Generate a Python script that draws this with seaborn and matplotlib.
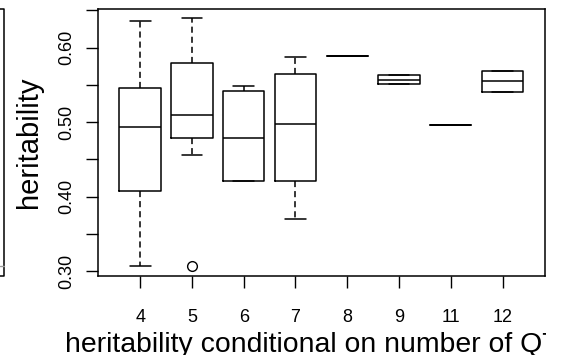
import numpy as np
import pandas as pd
import matplotlib
matplotlib.use("Agg")
import matplotlib.pyplot as plt
from matplotlib.lines import Line2D
from matplotlib.transforms import Bbox, TransformedBbox
import seaborn as sns

# ---- data ----
categories = ["4", "5", "6", "7", "8", "9", "11", "12"]
whisker_low = [0.307, 0.4556, 0.421, 0.370, 0.589, 0.551, 0.496, 0.540]
q1 = [0.4077, 0.479, 0.421, 0.421, 0.589, 0.551, 0.496, 0.540]
median = [0.494, 0.510, 0.479, 0.498, 0.589, 0.5567, 0.496, 0.555]
q3 = [0.5455, 0.579, 0.542, 0.565, 0.589, 0.563, 0.496, 0.569]
whisker_high = [0.636, 0.640, 0.549, 0.588, 0.589, 0.563, 0.496, 0.569]
outlier_group = ["5"]
outlier_value = [0.307]
ytick_values = [0.30, 0.35, 0.40, 0.45, 0.50, 0.55, 0.60, 0.65]
ytick_labels = ["0.30", "", "0.40", "", "0.50", "", "0.60", ""]
xlabel = "heritability conditional on number of QTL"
ylabel = "heritability"

rows = []
for i, c in enumerate(categories):
    for v in (whisker_low[i], q1[i], median[i], q3[i], whisker_high[i]):
        rows.append({"group": c, "h": v})
df = pd.DataFrame(rows)
out_df = pd.DataFrame({"group": outlier_group, "h": outlier_value})

sns.set_theme(style="ticks")
plt.rcParams["font.family"] = ["Liberation Sans", "DejaVu Sans"]
plt.rcParams.update({"text.color": "black", "axes.labelcolor": "black",
                     "xtick.color": "black", "ytick.color": "black",
                     "axes.edgecolor": "black"})

fig = plt.figure(figsize=(5.61, 3.55), dpi=100)
ax = fig.add_axes([97.7 / 561, 1 - 276 / 355, (545 - 97.7) / 561, (276 - 9.3) / 355])

sns.boxplot(data=df, x="group", y="h", order=categories, ax=ax,
            whis=(0, 100), fill=False, color="black", linecolor="black",
            linewidth=1.1, width=0.8,
            whiskerprops={"linestyle": (0, (4, 2.6)), "color": "black"},
            boxprops={"color": "black"},
            capprops={"color": "black"},
            medianprops={"linewidth": 1.1, "color": "black"})
sns.stripplot(data=out_df, x="group", y="h", order=categories, ax=ax,
              jitter=False, marker="o", size=7, color="white",
              edgecolor="black", linewidth=1.0, zorder=5)

ax.set_xlim(-0.82, 7.82)
ax.set_ylim(0.2935, 0.6515)
ax.set_yticks(ytick_values)
ax.set_yticklabels(ytick_labels, rotation=90, va="center", fontsize=13)
ax.tick_params(axis="x", labelsize=13, length=8.3, width=1.0, pad=15.5,
               color="black", labelcolor="black")
ax.tick_params(axis="y", length=8.3, width=1.0, pad=8,
               color="black", labelcolor="black")
for s in ax.spines.values():
    s.set_visible(True)
    s.set_color("black")
    s.set_linewidth(1.1)

ax.set_xlabel(xlabel, fontsize=20.4, ha="left", va="baseline", color="black")
ax.xaxis.set_label_coords((65 - 97.7) / 447.3, (276 - 351.5) / 266.7)
xl = ax.xaxis.label
xl.set_clip_box(TransformedBbox(Bbox([[0, 0], [546 / 561, 1]]), fig.transFigure))
xl.set_clip_on(True)
ax.set_ylabel(ylabel, fontsize=21, color="black")
ax.yaxis.set_label_coords((43 - 97.7) / 447.3, 0.5)

# fragment of neighbouring panel at the left edge
fig.add_artist(Line2D([0, 4 / 561, 4 / 561, 0],
                      [1 - 9 / 355, 1 - 9 / 355, 1 - 276 / 355, 1 - 276 / 355],
                      color="black", lw=1.1, transform=fig.transFigure))
fig.add_artist(Line2D([0, 3.5 / 561], [1 - 266 / 355, 1 - 266 / 355],
                      color="#999999", lw=1.0, transform=fig.transFigure))

fig.savefig("out.png", dpi=100)
